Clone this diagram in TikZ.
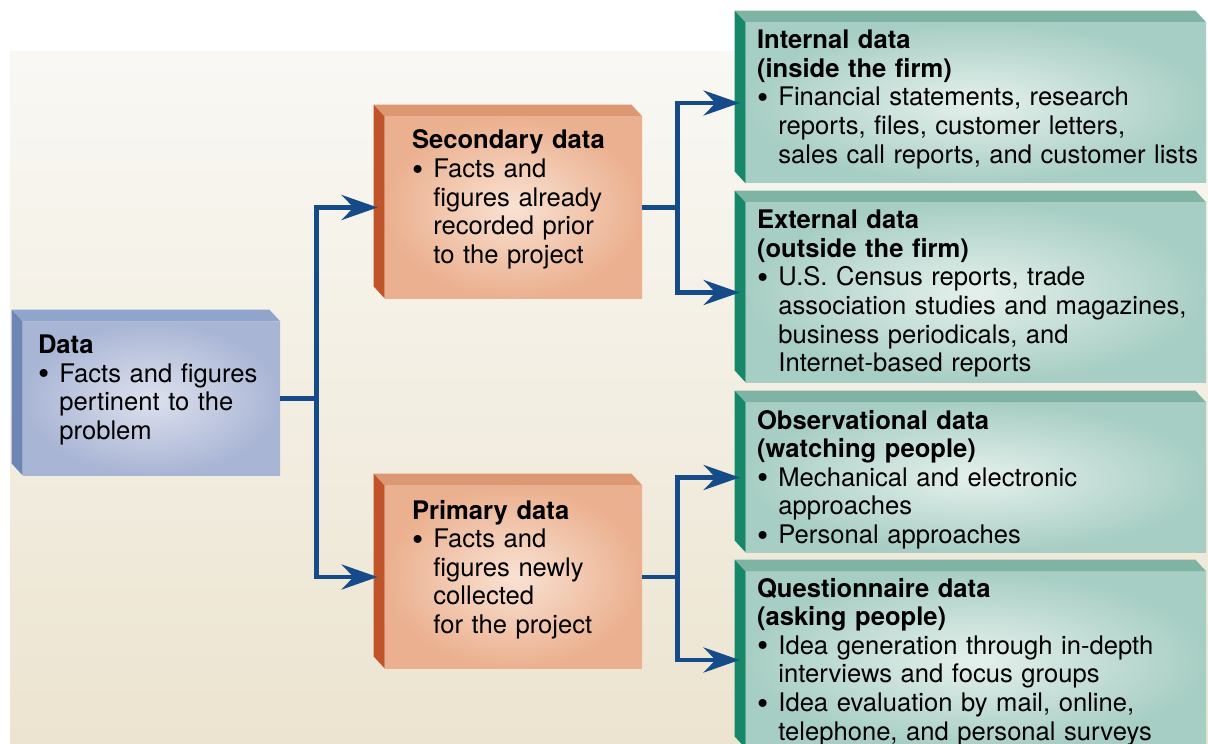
\documentclass[tikz,border=0pt]{standalone}
\usepackage{fontspec}
\setmainfont{TeX Gyre Heros}
\usepackage{tikz}
\usetikzlibrary{arrows.meta,backgrounds}

\definecolor{bgtop}{HTML}{F9F8F4}
\definecolor{bgbot}{HTML}{ECE4D0}
\definecolor{linkblue}{HTML}{154B88}
\definecolor{bluein}{HTML}{DDE1EE}
\definecolor{blueout}{HTML}{A9B5D5}
\definecolor{bluetop}{HTML}{91A4CB}
\definecolor{blueside}{HTML}{6E86B6}
\definecolor{orin}{HTML}{F9E2D3}
\definecolor{orout}{HTML}{EBB08F}
\definecolor{ortop}{HTML}{DB9872}
\definecolor{orside}{HTML}{C1532B}
\definecolor{grin}{HTML}{E5F0EC}
\definecolor{grout}{HTML}{A7CEC4}
\definecolor{grtop}{HTML}{7FB4A5}
\definecolor{grside}{HTML}{17876A}

\newcommand{\nl}{\hfil\break}
\newcommand{\itm}[1]{\par\hangindent=10.7pt\hangafter=1\noindent\makebox[10.7pt][l]{\raisebox{-1.3pt}{\fontsize{16pt}{16pt}\selectfont\textbullet}}#1\par}

\begin{document}
\begin{tikzpicture}[x=0.5pt,y=-0.5pt]
\tikzstyle{face}=[inner sep=0pt]
\tikzstyle{bluebox}=[face,minimum width=128.5pt,inner color=bluein,outer color=blueout]
\tikzstyle{orbox}=[face,minimum width=128.5pt,inner color=orin,outer color=orout]
\tikzstyle{grbox}=[face,minimum width=230pt,inner color=grin,outer color=grout]
\tikzstyle{txt}=[anchor=north west,inner sep=0pt,align=left,font=\fontsize{12.8pt}{14.3pt}\selectfont]
\tikzstyle{link}=[draw=linkblue,line width=2.3pt,-{Stealth[length=18pt,width=12.5pt,inset=6pt]}]

\useasboundingbox (0,0) rectangle (1208,743);

\node[bluebox,minimum height=76.5pt] (data) at (151.5,398.5) {};
\node[orbox,minimum height=90.5pt] (sec) at (513.5,207.5) {};
\node[orbox,minimum height=91pt] (pri) at (513.5,577) {};
\node[grbox,minimum height=80pt] (int) at (976,103) {};
\node[grbox,minimum height=89.5pt] (ext) at (976,292.5) {};
\node[grbox,minimum height=74.5pt] (obs) at (976,477.5) {};
\node[grbox,minimum height=88pt] (que) at (976,660) {};

\begin{scope}[on background layer]
\fill[top color=bgtop,bottom color=bgbot] (10,52) rectangle (1208,743);
\foreach \n/\t/\s in {data/bluetop/blueside,sec/ortop/orside,pri/ortop/orside,
  int/grtop/grside,ext/grtop/grside,obs/grtop/grside,que/grtop/grside}{
  \fill[\t] (\n.north west) -- ([shift={(-11,-12)}]\n.north west)
    -- ([shift={(-11,-12)}]\n.north east) -- (\n.north east) -- cycle;
  \fill[\s] (\n.north west) -- ([shift={(-11,-12)}]\n.north west)
    -- ([shift={(-11,-12)}]\n.south west) -- (\n.south west) -- cycle;
}
\end{scope}

\node[txt,text width=121pt] (datatxt) at ([shift={(15,13)}]data.north west)
  {{\bfseries Data}\itm{Facts and figures\nl pertinent to the\nl problem}};
\node[txt,text width=114pt] (sectxt) at ([shift={(27,13)}]sec.north west)
  {{\bfseries Secondary data}\itm{Facts and\nl figures already\nl recorded prior\nl to the project}};
\node[txt,text width=114pt] (pritxt) at ([shift={(27,14)}]pri.north west)
  {{\bfseries Primary data}\itm{Facts and\nl figures newly\nl collected\nl for the project}};
\node[txt,text width=224pt] (inttxt) at ([shift={(11,7)}]int.north west)
  {{\bfseries Internal data\\(inside the firm)}\itm{Financial statements, research\nl reports, files, customer letters,\nl sales call reports, and customer lists}};
\node[txt,text width=224pt] (exttxt) at ([shift={(11,7)}]ext.north west)
  {{\bfseries External data\\(outside the firm)}\itm{U.S. Census reports, trade\nl association studies and magazines,\nl business periodicals, and\nl Internet-based reports}};
\node[txt,text width=224pt] (obstxt) at ([shift={(11,7)}]obs.north west)
  {{\bfseries Observational data\\(watching people)}\itm{Mechanical and electronic\nl approaches}\itm{Personal approaches}};
\node[txt,text width=224pt] (quetxt) at ([shift={(11,6)}]que.north west)
  {{\bfseries Questionnaire data\\(asking people)}\itm{Idea generation through in-depth\nl interviews and focus groups}\itm{Idea evaluation by mail, online,\nl telephone, and personal surveys}};

\draw[link,shorten >=3.5pt] (data.east) -- ++(36,0) |- (sec.west);
\draw[link,shorten >=3.5pt] (data.east) -- ++(36,0) |- (pri.west);
\draw[link,shorten >=3pt] (sec.east) -- ++(35,0) |- (int.west);
\draw[link,shorten >=3pt] (sec.east) -- ++(35,0) |- (ext.west);
\draw[link,shorten >=3pt] (pri.east) -- ++(35,0) |- (obs.west);
\draw[link,shorten >=3pt] (pri.east) -- ++(35,0) |- (que.west);
\end{tikzpicture}
\end{document}
